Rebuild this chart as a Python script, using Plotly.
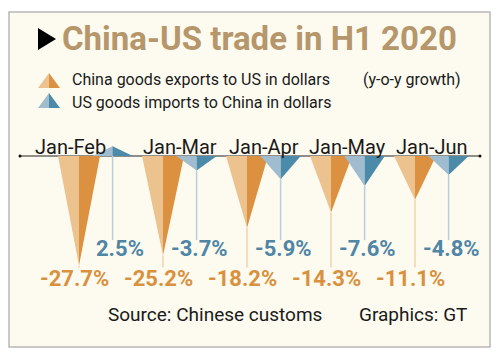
import plotly.graph_objects as go

# ---- data ----
periods = ["Jan-Feb", "Jan-Mar", "Jan-Apr", "Jan-May", "Jan-Jun"]
china_exports_to_us = [-27.7, -25.2, -18.2, -14.3, -11.1]
us_imports_to_china = [2.5, -3.7, -5.9, -7.6, -4.8]

title_text = "China-US trade in H1 2020"
legend_china = "China goods exports to US in dollars"
legend_us = "US goods imports to China in dollars"
note_text = "(y-o-y growth)"
source_text = "Source: Chinese customs"
credit_text = "Graphics: GT"

# ---- style ----
OFF = 8  # page body margin
W, H = 500 - OFF, 359 - OFF
CH_LIGHT, CH_DARK = "#ecc28f", "#db9140"
US_LIGHT, US_DARK = "#a0bccf", "#4c8aaa"
CH_TEXT, US_TEXT = "#d9913f", "#4f86a6"
CH_STEM, US_STEM = "#f0d2ad", "#b9cddb"
TITLE_COL = "#b6966b"
BG = "#fdfbf0"
FONT = "Roboto"

PX_PER_UNIT = 3.95
BASE_PX = 156 - OFF
Y_RANGE = [(BASE_PX - H) / PX_PER_UNIT, BASE_PX / PX_PER_UNIT]
STEP_PX = 84
X0_PX = 79 - OFF
X_RANGE = [-X0_PX / STEP_PX, (W - X0_PX) / STEP_PX]
US_OFF = 0.4
HALF_CH = 0.25
HALF_US = 0.24
CH_STEM_END = -28.2
US_STEM_END = -21.3
US_LABEL_Y = -23.5
CH_LABEL_Y = -31.1
CAT_LABEL_Y = 2.3


def px(xp):
    return (xp - OFF) / W


def py(yp):
    return 1 - (yp - OFF) / H


def xdata(xp):
    return X_RANGE[0] + (xp - OFF) / STEP_PX


fig = go.Figure()

# baseline
fig.add_trace(go.Scatter(
    x=[xdata(20), xdata(480)], y=[0, 0],
    mode="lines+markers", line=dict(color="#222", width=1),
    marker=dict(size=3, color="#111"), hoverinfo="skip"))

# stems
for i, (c, u) in enumerate(zip(china_exports_to_us, us_imports_to_china)):
    fig.add_trace(go.Scatter(x=[i, i], y=[c, CH_STEM_END], mode="lines",
                             line=dict(color=CH_STEM, width=1.5), hoverinfo="skip"))
    fig.add_trace(go.Scatter(x=[i + US_OFF, i + US_OFF], y=[u, US_STEM_END], mode="lines",
                             line=dict(color=US_STEM, width=1.5), hoverinfo="skip"))


def tri(xc, half, v, light, dark):
    fig.add_trace(go.Scatter(x=[xc - half, xc, xc, xc - half], y=[0, 0, v, 0],
                             fill="toself", fillcolor=light, mode="lines",
                             line=dict(width=0, color=light), hoverinfo="skip"))
    fig.add_trace(go.Scatter(x=[xc, xc + half, xc, xc], y=[0, 0, v, 0],
                             fill="toself", fillcolor=dark, mode="lines",
                             line=dict(width=0, color=dark), hoverinfo="skip"))


for i, (c, u) in enumerate(zip(china_exports_to_us, us_imports_to_china)):
    tri(i, HALF_CH, c, CH_LIGHT, CH_DARK)
    tri(i + US_OFF, HALF_US, u, US_LIGHT, US_DARK)

annotations = []
for i, (c, u, p) in enumerate(zip(china_exports_to_us, us_imports_to_china, periods)):
    annotations.append(dict(x=i, y=CH_LABEL_Y, text=f"<b>{c:.1f}%</b>", showarrow=False,
                            xanchor="right", xshift=32, yanchor="middle",
                            font=dict(family=FONT, size=22, color=CH_TEXT)))
    annotations.append(dict(x=i + US_OFF, y=US_LABEL_Y, text=f"<b>{u:.1f}%</b>", showarrow=False,
                            xanchor="right", xshift=33, yanchor="middle",
                            font=dict(family=FONT, size=22, color=US_TEXT)))
    if u > 0:
        annotations.append(dict(x=i - HALF_CH, y=CAT_LABEL_Y, text=p, showarrow=False,
                                xanchor="left", xshift=-25, yanchor="middle",
                                font=dict(family=FONT, size=20, color="#1a1a1a")))
    else:
        annotations.append(dict(x=i + US_OFF / 2, y=CAT_LABEL_Y, text=p, showarrow=False,
                                xanchor="center", yanchor="middle",
                                font=dict(family=FONT, size=20, color="#1a1a1a")))

# title & legend & source
annotations += [
    dict(xref="paper", yref="paper", x=px(60), y=py(39), text=f"<b>{title_text}</b>",
         showarrow=False, xanchor="left", yanchor="middle",
         font=dict(family=FONT, size=33, color=TITLE_COL)),
    dict(xref="paper", yref="paper", x=px(70), y=py(80), text=legend_china,
         showarrow=False, xanchor="left", yanchor="middle",
         font=dict(family=FONT, size=16, color="#1a1a1a")),
    dict(xref="paper", yref="paper", x=px(70), y=py(102), text=legend_us,
         showarrow=False, xanchor="left", yanchor="middle",
         font=dict(family=FONT, size=16, color="#1a1a1a")),
    dict(xref="paper", yref="paper", x=px(361), y=py(80), text=note_text,
         showarrow=False, xanchor="left", yanchor="middle",
         font=dict(family=FONT, size=16, color="#1a1a1a")),
    dict(xref="paper", yref="paper", x=px(106), y=py(314), text=source_text,
         showarrow=False, xanchor="left", yanchor="middle",
         font=dict(family=FONT, size=19, color="#1a1a1a")),
    dict(xref="paper", yref="paper", x=px(357), y=py(314), text=credit_text,
         showarrow=False, xanchor="left", yanchor="middle",
         font=dict(family=FONT, size=19, color="#1a1a1a")),
]


def path(pts):
    return "M " + " L ".join(f"{px(a)},{py(b)}" for a, b in pts) + " Z"


shapes = [
    dict(type="rect", xref="paper", yref="paper", x0=px(9), x1=px(490), y0=py(347), y1=py(12),
         fillcolor=BG, line=dict(color="#b8b8b8", width=1.5), layer="below"),
    dict(type="path", xref="paper", yref="paper", path=path([(38, 28), (56, 39), (38, 50)]),
         fillcolor="#000", line=dict(width=0)),
    # legend icons
    dict(type="path", xref="paper", yref="paper", path=path([(38, 88), (49, 73), (49, 88)]),
         fillcolor=CH_LIGHT, line=dict(width=0)),
    dict(type="path", xref="paper", yref="paper", path=path([(49, 73), (60, 88), (49, 88)]),
         fillcolor=CH_DARK, line=dict(width=0)),
    dict(type="path", xref="paper", yref="paper", path=path([(38, 108), (49, 93), (49, 108)]),
         fillcolor=US_LIGHT, line=dict(width=0)),
    dict(type="path", xref="paper", yref="paper", path=path([(49, 93), (60, 108), (49, 108)]),
         fillcolor=US_DARK, line=dict(width=0)),
]

fig.update_layout(
    width=W, height=H, margin=dict(l=0, r=0, t=0, b=0),
    paper_bgcolor="white", plot_bgcolor="rgba(0,0,0,0)",
    showlegend=False,
    xaxis=dict(range=X_RANGE, visible=False, fixedrange=True),
    yaxis=dict(range=Y_RANGE, visible=False, fixedrange=True),
    annotations=annotations, shapes=shapes,
)

fig.write_html("out.html", config={"displayModeBar": False})
